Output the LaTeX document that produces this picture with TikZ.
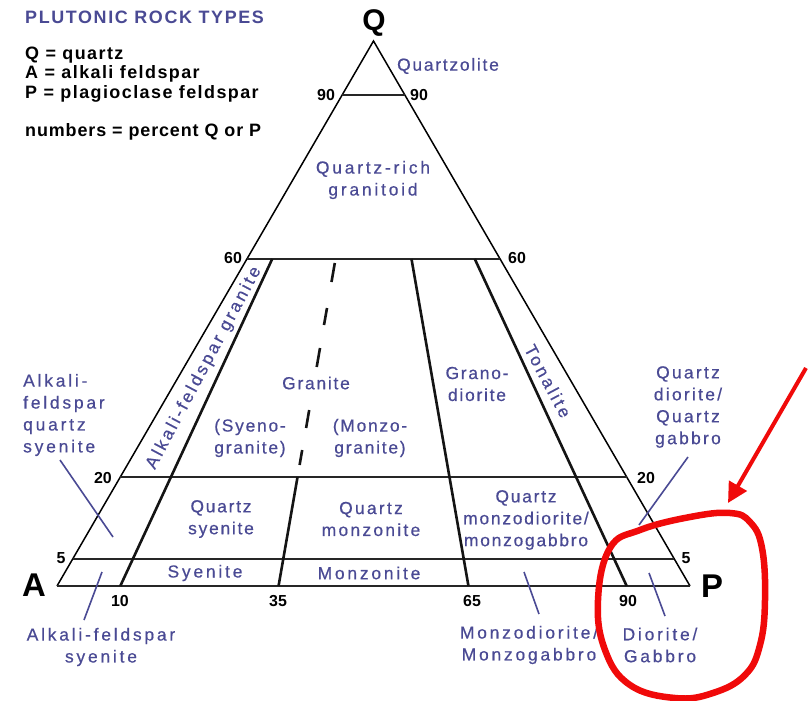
\documentclass[tikz,border=0pt]{standalone}
\usepackage{fontspec}
\setmainfont{Liberation Sans}
\newfontfamily\blA[LetterSpace=10,FakeBold=0.5]{Liberation Sans}
\newfontfamily\blB[LetterSpace=13,FakeBold=0.5]{Liberation Sans}
\newfontfamily\blC[LetterSpace=16,FakeBold=0.5]{Liberation Sans}
\newfontfamily\hdrfont[LetterSpace=9]{Liberation Sans}
\newfontfamily\lgfont[LetterSpace=8]{Liberation Sans}
\newfontfamily\nbfont[LetterSpace=5]{Liberation Sans}
\usetikzlibrary{arrows.meta}
\definecolor{lblue}{RGB}{74,74,148}
\definecolor{rred}{RGB}{240,10,10}
\tikzset{
  lab/.style={text=lblue, inner sep=0pt, align=center},
  fA/.style={font=\blA\fontsize{17.5}{22}\selectfont},
  fB/.style={font=\blB\fontsize{17.5}{22}\selectfont},
  fC/.style={font=\blC\fontsize{17.5}{22}\selectfont},
  num/.style={font=\bfseries\fontsize{16}{16}\selectfont, inner sep=0pt},
  corner/.style={font=\bfseries\fontsize{33}{33}\selectfont, inner sep=0pt},
  side/.style={line width=1.5bp, draw=black},
  hline/.style={line width=2bp, draw=black!85},
  rad/.style={line width=2.6bp, draw=black!92},
  leader/.style={draw=lblue, line width=1.6bp},
  redmark/.style={draw=rred, line width=6.5bp},
}
\begin{document}
\begin{tikzpicture}[x=1bp,y=-1bp]
\useasboundingbox (0,0) rectangle (809,701);
\fill[white] (0,0) rectangle (809,701);
% triangle corners
\coordinate (A) at (57,586);
\coordinate (P) at (690,586);
\coordinate (Q) at (373.5,41);
% horizontal levels
\coordinate (q90l) at (341.85,95.5);  \coordinate (q90r) at (405.15,95.5);
\coordinate (q60l) at (246.9,259);    \coordinate (q60r) at (500.1,259);
\coordinate (q20l) at (120.3,477);    \coordinate (q20r) at (626.7,477);
\coordinate (q05l) at (72.8,558.75);  \coordinate (q05r) at (674.2,558.75);
% radial lines
\coordinate (r10b) at (120.3,586);  \coordinate (r10t) at (272.2,259);
\coordinate (r35b) at (278.55,586); \coordinate (r35m) at (297.54,477);
\coordinate (r65b) at (468.45,586); \coordinate (r65t) at (411.5,259);
\coordinate (r90b) at (626.7,586);  \coordinate (r90t) at (474.8,259);

\draw[side] (A) -- (Q) -- (P);
\draw[hline] (A) -- (P);
\draw[hline] (q90l) -- (q90r);
\draw[hline] (q60l) -- (q60r);
\draw[hline] (q20l) -- (q20r);
\draw[hline] (q05l) -- (q05r);
\draw[rad] (r10b) -- (r10t);
\draw[rad] (r35b) -- (r35m);
\draw[rad] (r65b) -- (r65t);
\draw[rad] (r90b) -- (r90t);
% dashed part of the 35 line
\draw[rad] (334.8,263) -- (331.5,282);
\draw[rad] (327.0,308) -- (324.0,325);
\draw[rad] (320.0,348) -- (316.7,367);
\draw[rad] (309.2,410) -- (306.1,428);
\draw[rad] (302.2,450) -- (299.6,465);

% corner labels
\node[corner, font=\bfseries\fontsize{30}{30}\selectfont] (Qlab) at (374,23) {Q};
\node[corner] (Alab) at (34,585) {A};
\node[corner] (Plab) at (712,586) {P};

% numbers
\node[num] (n90l) at (326,95) {90};
\node[num] (n90r) at (419,95) {90};
\node[num] (n60l) at (233,258) {60};
\node[num] (n60r) at (517,258) {60};
\node[num] (n20l) at (103,478) {20};
\node[num] (n20r) at (646,478) {20};
\node[num] (n5l) at (61,558) {5};
\node[num] (n5r) at (686,558) {5};
\node[num] (n10) at (120,601) {10};
\node[num] (n35) at (278,601) {35};
\node[num] (n65) at (472,601) {65};
\node[num] (n90b) at (628,601) {90};

% header and legend
\node[text=lblue, inner sep=0pt, anchor=west, font=\hdrfont\bfseries\fontsize{18}{18}\selectfont] (title) at (25,17) {PLUTONIC ROCK TYPES};
\node[inner sep=0pt, anchor=west, align=left, font=\lgfont\bfseries\fontsize{18}{19.7}\selectfont] (legend) at (25,74.5) {Q = quartz\\A = alkali feldspar\\P = plagioclase feldspar};
\node[inner sep=0pt, anchor=west, font=\nbfont\bfseries\fontsize{18}{18}\selectfont] (numbers) at (25,132) {numbers = percent Q or P};

% field labels
\node[lab, fA] (quartzolite) at (448,66) {Quartzolite};
\node[lab, fC] (qrich) at (373,180) {Quartz-rich\\granitoid};
\node[lab, fA] (granite) at (316,383) {Granite};
\node[lab, fA] (syeno) at (250,438) {(Syeno-\\granite)};
\node[lab, fA] (monzo) at (370,438) {(Monzo-\\granite)};
\node[lab, fA] (grano) at (477,384) {Grano-\\diorite};
\node[lab, fC, rotate=-62] (tonalite) at (548,381) {Tonalite};
\node[lab, fC, rotate=62] (afg) at (204,368) {Alkali-feldspar granite};
\node[lab, fA] (qsy) at (221,519) {Quartz\\syenite};
\node[lab, fB] (qmz) at (371,519) {Quartz\\monzonite};
\node[lab, fA] (qmzd) at (526,520) {Quartz\\monzodiorite/\\monzogabbro};
\node[lab, fC] (syenite) at (205,573) {Syenite};
\node[lab, fC] (monzonite) at (369,573) {Monzonite};
\node[lab, fC, align=left, anchor=west] (afqs) at (23,415) {Alkali-\\feldspar\\quartz\\syenite};
\node[lab, fC] (afs) at (101,647) {Alkali-feldspar\\syenite};
\node[lab, fC] (mzd) at (529,645) {Monzodiorite/\\Monzogabbro};
\node[lab, fC] (dg) at (660,645) {Diorite/\\Gabbro};
\node[lab, fB] (qd) at (688,407) {Quartz\\diorite/\\Quartz\\gabbro};

% leaders
\coordinate (l1a) at (60,460);  \coordinate (l1b) at (113,537);
\coordinate (l2a) at (102,572); \coordinate (l2b) at (84,620);
\coordinate (l3a) at (524,572); \coordinate (l3b) at (539,614);
\coordinate (l4a) at (649,573); \coordinate (l4b) at (665,616);
\coordinate (l5a) at (688,457); \coordinate (l5b) at (639,525);
\draw[leader] (l1a) -- (l1b);
\draw[leader] (l2a) -- (l2b);
\draw[leader] (l3a) -- (l3b);
\draw[leader] (l4a) -- (l4b);
\draw[leader] (l5a) -- (l5b);

% red annotation
\draw[redmark] plot[smooth cycle, tension=0.7] coordinates {(610,548) (640,530) (690,517) (730,513) (750,522) (762,548) (765,600) (760,645) (745,675) (713,693) (675,698) (630,685) (605,650) (598,600)};
\coordinate (arrS) at (806,368);
\coordinate (arrE) at (728,503);
\draw[draw=rred, line width=4bp, -{Triangle[length=20bp,width=20bp]}] (arrS) -- (arrE);
\end{tikzpicture}
\end{document}
